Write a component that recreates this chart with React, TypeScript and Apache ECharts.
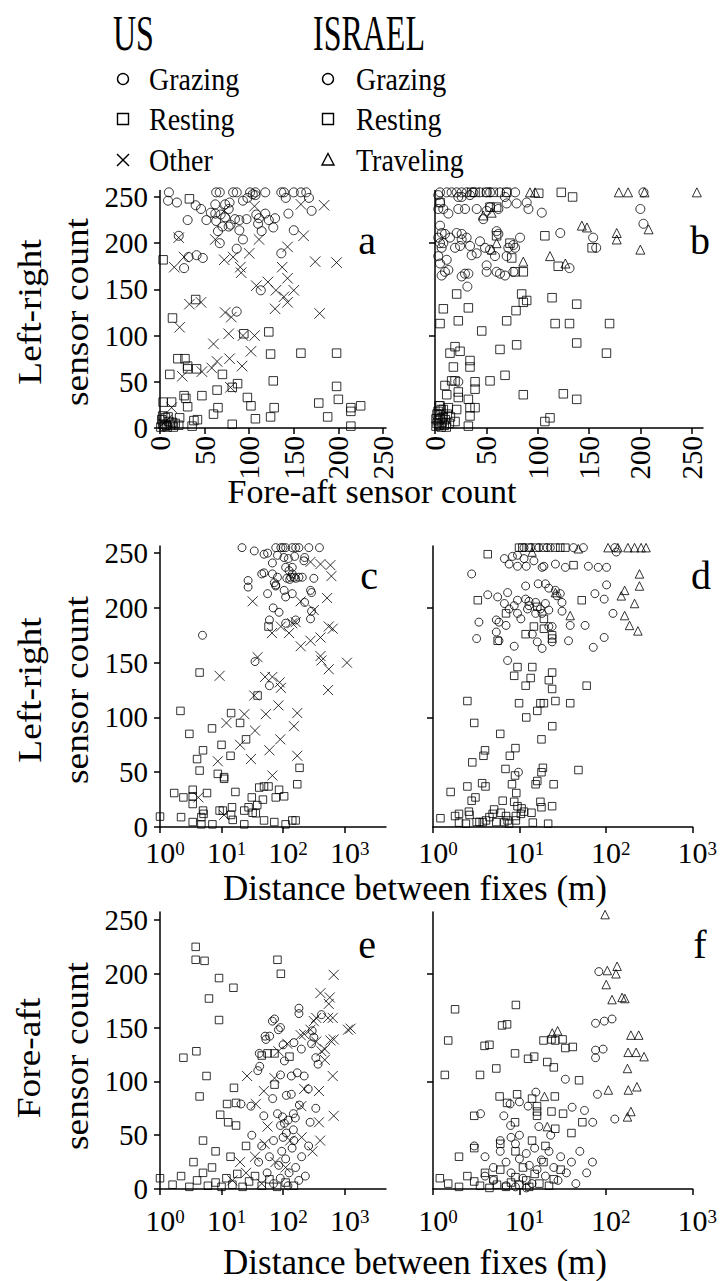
import React, { useEffect, useRef } from 'react';
import * as echarts from 'echarts';

// ---------- tick labels ----------
const countTicks = [0, 50, 100, 150, 200, 250];
const rightYTicks = [100, 200];
const distTicks = [1, 10, 100, 1000];
const usLegend = ['Grazing', 'Resting', 'Other'];
const ilLegend = ['Grazing', 'Resting', 'Traveling'];
const colTitles = ['US', 'ISRAEL'];
const panelLetters = ['a', 'b', 'c', 'd', 'e', 'f'];

// ---------- panel a: US, left-right vs fore-aft ----------
const aGrazing = [
  [10,255],[63,255],[67,255],[82,255],[86,255],[101,255],[107,255],[118,255],[136,255],[139,255],[150,255],[158,255],[164,255],
  [9,246],[19,244],[40,241],[46,237],[52,225],[57,233],[62,232],[62,242],[68,231],[73,242],[77,237],[78,244],[63,224],[65,213],[67,200],
  [73,228],[70,218],[77,218],[79,220],[84,226],[89,214],[89,225],[93,204],[93,246],[97,226],[98,249],[104,253],[107,252],[108,231],
  [110,221],[111,227],[114,213],[118,232],[122,225],[127,217],[129,227],[136,189],[141,249],[144,232],[150,214],[167,249],[170,235],
  [31,225],[21,208],[32,185],[41,187],[48,184],[27,173],[86,194],[113,149],[86,126]
];
const aResting = [
  [3.5,182],[33,248],[14,119],[40,139],[20,75],[28,75],[31,67],[31,64],[41,64],[11,58],[70,58],[64,41],[87,48],[81,44],[47,35],[27,35],
  [29,32],[31,23],[3.5,28],[13,28],[98,33],[102,24],[65,22],[60,15],[42,9],[38,8],[36,2],[81,4],[107,10],[124,12],[128,22],[127,51],
  [122,104],[124,80],[158,81],[94,102],[198,81],[198,45],[200,31],[188,12],[178,27],[214,22],[214,18],[214,2],[225,24],
  [2,9],[3,13],[6,11],[9,12],[10,7],[14,6],[17,5],[21,3],[22,11],[5,2],[7,3],[12,3],[3,4],[1,1],[8,1],[15,1]
];
const aOther = [
  [16,174],[21,206],[22,109],[25,56],[27,185],[33,134],[46,136],[60,91],[64,72],[47,61],[58,65],[72,182],[73,125],[78,75],[80,120],
  [77,102],[82,185],[90,174],[91,168],[92,67],[93,100],[100,189],[102,83],[106,100],[108,154],[111,204],[121,158],[129,129],[130,149],
  [137,174],[143,162],[139,142],[143,136],[150,149],[143,196],[158,242],[161,208],[174,180],[179,124],[184,241],[198,179],[79,44],
  [62,204],[106,240],[72,235],[13,22],[4,5],[8,9]
];

// ---------- panel b: Israel, left-right vs fore-aft ----------
const bGrazing = [
  [4.9,255],[11.4,255],[16.2,255],[21.1,255],[26,255],[30.8,255],[37.3,255],[43.8,255],[50.3,255],[53.6,255],[63.3,255],[69.8,255],[78,255],[203,255],
  [3.2,252],[4.9,244],[8.1,237],[3.2,237],[13,232],[22.7,250],[26,250],[34,252],[22.7,237],[29.2,237],[40.6,237],[47,226],[50.3,235],
  [53.6,239],[61.7,237],[68.2,250],[69.8,243],[79.5,243],[89.3,244],[91,237],[104,233],[122,211],[154,206],[157,195],[200,237],[203,221],[131,173],
  [4.9,219],[6.5,211],[9.7,210],[3.2,206],[14.6,206],[4.9,200],[8.1,200],[6.5,195],[21.1,211],[26,210],[30.8,206],[26,204],[19.5,195],
  [24.4,197],[34.1,197],[35.7,187],[40.6,189],[43.8,202],[48.7,195],[53.6,193],[58.4,186],[60,213],[61.7,210],[69.8,186],[71.4,195],
  [76.3,198],[78,195],[82.8,206],[3.2,186],[4.9,178],[11.4,182],[9.7,169],[6.5,165],[13,171],[26,164],[29.2,167],[32.5,167],[50.3,176],
  [50.3,169],[60,169],[63.3,167],[68.2,165],[76.3,169],[31.5,153],[22.7,50]
];
const bResting = [
  [35.7,255],[39,255],[50.3,255],[56.8,255],[69.8,255],[123,255],[101,254],[134,250],[4.9,244],[53.6,239],[60,239],
  [60,208],[73,200],[74.7,184],[86,169],[107,208],[153,195],[120,175],[78,169],
  [21.1,145],[8.1,129],[32.5,130],[84.4,145],[86,136],[89.3,138],[78.9,127],[114,141],[138,134],[4.9,113],[22.7,116],[45.5,105],
  [69.8,116],[117,113],[131,113],[170,113],[19.5,88],[14.6,81],[24.4,83],[63.3,85],[79.5,90],[138,92],[167,81],[34.1,73],[17.9,66],
  [34.1,66],[16.2,51],[19.5,51],[39,50],[39,42],[53.6,51],[68.2,57],[9.7,46],[11.4,36],[22.7,39],[22.7,33],[86,36],[125,37],[138,31],
  [32.5,31],[34.1,22],[39,22],[4.9,24],[8.1,20],[13,22],[21.1,20],[34.1,13],[19.5,7],[32.5,2],[112,11],[107,7],
  [1,2],[2,5],[3,8],[4,3],[5,10],[6,1],[7,6],[8,12],[2,15],[3,18],[5,14],[9,3],[10,9],[11,1],[12,15],[6,20],[4,24],[1,10],[14,5],[15,12]
];
const bTraveling = [
  [92.5,255],[97.4,255],[179,255],[188,255],[204,255],[255,255],
  [47,230],[55.2,233],[55.2,193],[60,200],[86,180],[112,186],[127,178],[143,219],[148,217],[177,211],[177,204],[208,215],[200,193]
];

// ---------- panel c: US, left-right vs distance ----------
const cGrazing = [
  [21.5,255],[34,252],[49,249],[76,255],[92,255],[100,255],[110,255],[141,255],[160,255],[181,255],[262,255],[390,255],[56,250],[81,248],
  [103,246],[122,245],[154,247],[224,246],[67,241],[110,237],[141,237],[218,243],[45,231],[49,232],[27,225],[27,219],[67,231],[81,228],
  [72,223],[76,221],[125,234],[141,231],[133,228],[150,228],[181,228],[205,228],[316,227],[56,213],[76,220],[104,216],[110,210],[141,213],
  [279,216],[290,214],[224,205],[69,200],[86,196],[60,189],[110,186],[160,189],[279,190],[290,197],[4.9,175],[35,151],[60,129],
  [115,227],[128,226],[160,227]
];
const cResting = [
  [58,183],[4.4,141],[38.5,120],[2.15,106],[14.3,104],
  [3,85],[5,70],[7,90],[10,75],[14,65],[20,95],[4,62],[25,80],
  [4.4,51.5],[8.7,48.5],[11,45.5],[11,44],[16.8,32],[1.7,31],[2.4,27],[3.4,34],[3.4,28],[3.4,21],[5.8,31],[31,27],[41,36],[49,37],[58,37],
  [76,27],[86,34],[104,28],[170,39],[185,54],[47,25],[38,20],[27.5,18],[23.4,15],[14.8,18],[14.3,11],[10.5,15],[5,15],[5.1,12],[4.7,9],
  [1,9.5],[2.2,9],[3.4,4.5],[4.7,2.4],[7.1,2.4],[15.2,6.5],[23.4,2.4],[49,6],[72,4.5],[110,2.4],[141,6],[160,6],[9.3,15],[32,13],[36,12.5]
];
const cOther = [
  [279,242],[405,240],[587,239],[609,229],[32,206],[193,206],[519,209],[316,198],[160,187],[141,186],[66,177],[125,177],[92,183],[552,183],
  [640,181],[279,170],[405,173],[193,165],[405,156],[420,152],[552,144],[1091,150],[38.5,155],[51,137],[67,137],[88,132],[92,127],[538,125],
  [34,120],[84,111],[9.3,138],[170,104],[23.5,103],[52.5,103],
  [12,95],[20,75],[35,88],[60,70],[90,80],[150,92],[30,62],
  [8.7,60],[4.2,27],[67,47],[170,65],[11,11]
];

// ---------- panel d: Israel, left-right vs distance ----------
const dGrazing = [
  [11.3,255],[13.5,255],[16.8,255],[20.9,255],[22.8,255],[42.3,255],[55,255],[127,255],[132,251],
  [6.7,245],[8.3,247],[9.5,248],[7.6,240],[9.5,238],[11.3,245],[12,238],[14.7,243],[18.3,237],[19.2,238],[26.1,240],[34,237],[62.8,238],
  [81.7,237],[102,237],[2.8,231],[11.8,220],[16.5,222],[20,222],[21.9,218],[26.1,216],[29.7,213],[27.2,211],[31.1,205],[4.3,212],[5.6,210],
  [7.3,214],[6.7,204],[7.6,199],[8.7,202],[9.5,207],[9.5,195],[10.4,190],[11.8,208],[12.9,206],[12.9,202],[12.4,199],[15.4,205],[15.4,195],
  [17.5,199],[18.3,195],[20,204],[21.9,198],[31.1,197],[38.7,184],[57.5,184],[74.8,213],[102,221],[95.7,208],[121,195],[3.4,187],[5.4,189],
  [5.8,187],[7,184],[5.4,178],[3.2,172],[5.8,170],[8.7,165],[14.1,176],[16.1,169],[18.3,163],[21.9,183],[23.9,183],[23.9,169],[37,170],
  [71.6,164],[95.7,173],[7.3,152],[9.75,50]
];
const dResting = [
  [9.9,255],[10.8,255],[12.9,255],[15.4,255],[19.2,255],[26.1,255],[29.7,255],[34,255],[4.3,249],[42.3,239],[3.3,207],[52.6,207],[7,195],
  [16.1,201],[19.2,190],[14.7,183],[19.2,181],[11.8,176],[5.6,170],[23.9,175],[23.9,172],[9.5,146],[14.1,146],[8.7,138],[13.5,136],[23.9,141],
  [21.9,134],[23.9,126],[11.8,129],[60,129],[2.5,115],[9.9,113],[17.5,113],[19.2,113],[26.1,115],[38.7,113],[16.1,106],
  [3,95],[6,85],[9,72],[12,100],[18,80],[24,92],[4,70],
  [2.85,59],[3.84,65],[7.75,65],[6.9,53],[18.7,54],[18,50],[8.9,47],[48.2,52],[2.5,37],[3.7,40],[4.05,37],[8.2,39],[9.2,31],[15.4,39],
  [16.1,42],[24.9,39],[1.6,32],[2.8,24],[3.1,27],[6.4,24],[8.7,23],[9.5,19],[10.6,17],[17.5,23],[18,18],[23.9,19],[1.22,8],[1.8,10],
  [2,12],[2.65,11],[2.6,14],[3.45,4.5],[4.5,9],[4.9,12],[5.1,16],[6.1,13],[7,10],[7.3,6],[9.1,6],[9.1,10],[10.4,12],[11.3,14],[13.8,13],
  [14.3,4],[21.5,3],[2,4],[2.4,3],[3.2,4.5],[3.77,4.5],[4.1,6],[5.4,4.5],[6.7,4.5],[7.6,3]
];
const dTraveling = [
  [106,255],[138,255],[180,255],[215,255],[256,255],[292,255],[48,254],[14,251],
  [26.1,214],[38.7,193],[165,216],[151,211],[245,231],[245,220],[215,204],[165,193],[188,184],[235,179]
];

// ---------- panel e: US, fore-aft vs distance ----------
const eGrazing = [
  [181,168],[181,163],[420,162],[67,156],[84,148],[51,142],[52.5,139],[297,147],[316,141],[290,135],[100,134],[150,136],[41,126],
  [72.6,158],[90.7,150],[60.5,142],[198,130],[340,122],[370,116],[41.7,114],[38.8,110],[105,119],[90.7,106],[136,105],[170,108],[220,105],
  [256,93],[67.7,84],[113,87],[136,88],[20.7,79],[30,77],[48.6,68],[147,70],[158,66],[275,62],[184,78],[81,70],[98,67],[121,64],[90.7,59],
  [105,61],[340,75],[31,50],[113,52],[147,55],
  [45,40],[60,30],[70,45],[85,22],[95,35],[110,28],[125,15],[140,38],[160,20],[180,8],[200,30],[230,12],[90,10],[70,5],[120,3],[150,45],
  [55,15],[260,40],[40,25],[100,48]
];
const eResting = [
  [3.8,225],[3.8,213],[5.3,212],[81,213],[92,200],[9.1,196],[15.6,187],[6.25,177],[9.1,157],
  [3.9,128],[2.4,122],[5.7,105],[15.9,94],[4.4,86],[12.3,79],[17.2,80],[9.5,69],[12.8,62],[17.2,59],[45,124],[56,126],[72.6,126],[127,123],[72.6,97],
  [1,10],[1.6,4],[2.2,12],[3,2],[3.5,25],[4,8],[5,15],[6,3],[7,20],[8,6],[10,2],[12,10],[15,4],[18,14],[22,2],[28,7],[35,12],[45,3],[60,9],
  [80,2],[110,6],[150,3],[8,35],[14,30],[25,40],[5,45]
];
const eOther = [
  [665,199],[405,182],[573,178],[552,172],[538,159],[1132,148],[316,156],[279,148],[193,143],[587,138],[420,128],[117,135],[84,128],
  [345,159],[640,159],[1250,149],[220,144],[345,137],[665,139],[476,130],[476,120],[640,105],[26,105],[72.6,103],[48.6,91],[220,93],
  [383,91],[56,58],[383,62],[665,68],[198,77],[36,79],
  [15,8],[25,15],[35,30],[50,42],[75,25],[130,45],[200,48],[300,35],[45,5],[20,25],[400,45],[110,20]
];

// ---------- panel f: Israel, fore-aft vs distance ----------
const fGrazing = [
  [83,202],[76,154],[96,156],[76,129],[118,158],[93,130],[76,122],[34,102],[15.5,90],[80,88],[7.8,79],[10,81],[12.6,77],[3.55,70],[6.6,68],
  [7.9,59],[40.7,76],[56.6,73],[70.5,62],[127,65],[16.8,58],[23,50],
  [3,40],[4,30],[5,20],[6,35],[7,25],[8,15],[9,42],[10,28],[11,10],[12,33],[13,22],[14,5],[15,38],[16,18],[18,27],[20,12],[22,35],[25,20],
  [28,8],[30,30],[35,15],[40,25],[45,5],[50,35],[60,15],[70,25],[5,8],[7,3],[9,2],[12,1],[4,12],[6,45],[8,48],[10,50]
];
const fResting = [
  [1.8,167],[9.1,171],[6.3,152],[1.5,138],[3.95,133],[19,138],[26,138],[34,131],[7.2,153],[4.5,134],[8.9,126],[12.6,121],[14.8,123],[21,118],
  [25,113],[23.5,139],[31.6,139],[41.5,132],[1.37,106],[3.5,106],[5.4,112],[49,101],[5.9,86],[9.4,88],[14,84],[25.7,86],[7.2,80],[16,77],
  [16,72],[23.5,72],[32,70],[3,68],[8.9,62],[53.5,62],[26,56],[40,52],[16,68],
  [1.2,10],[1.5,5],[2,2],[2.5,12],[3,7],[3.5,3],[4,15],[4.5,1],[5,9],[5.5,4],[6,18],[7,2],[8,6],[9,11],[10,4],[11,20],[12,8],[13,2],[15,14],
  [17,5],[19,25],[22,3],[25,9],[2,30],[3,38],[6,42],[9,35],[14,45],[20,40],[30,18]
];
const fTraveling = [
  [98,255],[104,203],[135,207],[131,200],[101,190],[118,176],[154,178],[166,177],[24,145],[195,143],[181,127],[27.7,147],[240,143],[224,127],
  [277,123],[178,112],[107,92],[182,92],[229,95],[195,72],[178,67],[19.5,86],[21,58]
];

const FONT = 'Liberation Serif';
const BLACK = '#000';

const CROSS = 'path://M0,0L10,10M0,10L10,0';
const SYMBOLS: Record<string, string> = {
  Grazing: 'circle',
  Resting: 'rect',
  Other: CROSS,
  Traveling: 'triangle',
};
const SIZES_TOP: Record<string, number> = { Grazing: 9, Resting: 8.5, Other: 10.5, Traveling: 9 };
const SIZES_LOW: Record<string, number> = { Grazing: 8, Resting: 7.5, Other: 10, Traveling: 8.5 };

function scatter(name: string, data: number[][], idx: number) {
  const sizes = idx < 2 ? SIZES_TOP : SIZES_LOW;
  return {
    type: 'scatter',
    name,
    xAxisIndex: idx,
    yAxisIndex: idx,
    data,
    symbol: SYMBOLS[name],
    symbolSize: sizes[name],
    itemStyle: { color: 'rgba(0,0,0,0)', borderColor: BLACK, borderWidth: 1 },
    silent: true,
  };
}

const axisLine = { show: true, onZero: false, lineStyle: { color: BLACK, width: 1.5 } };
const tickLine = { color: BLACK, width: 1.5 };

function countX(gridIndex: number, max: number) {
  return {
    type: 'value', gridIndex, min: 0, max,
    axisLine,
    axisTick: { show: true, length: 6, customValues: countTicks, lineStyle: tickLine },
    axisLabel: { show: true, customValues: countTicks, rotate: 90, margin: 8, fontFamily: FONT, fontSize: 29, color: BLACK },
    splitLine: { show: false },
  };
}

function distX(gridIndex: number, max: number, margin: number) {
  return {
    type: 'log', logBase: 10, gridIndex, min: 1, max,
    axisLine,
    axisTick: { show: true, length: 6, customValues: distTicks, lineStyle: tickLine },
    axisLabel: {
      show: true, customValues: distTicks, margin, fontFamily: FONT, fontSize: 30, lineHeight: 26, color: BLACK,
      padding: [0, 0, 0, 10],
      formatter: (v: number) => '10{s|' + Math.round(Math.log10(v)) + '}',
      rich: { s: { fontFamily: FONT, fontSize: 19, lineHeight: 26, verticalAlign: 'top', color: BLACK } },
    },
    splitLine: { show: false },
  };
}

function countY(gridIndex: number, max: number, labels: boolean) {
  return {
    type: 'value', gridIndex, min: 0, max,
    axisLine,
    axisTick: { show: true, length: 6, customValues: labels ? countTicks : rightYTicks, lineStyle: tickLine },
    axisLabel: { show: labels, customValues: countTicks, margin: 12, fontFamily: FONT, fontSize: 29, color: BLACK },
    splitLine: { show: false },
  };
}

function txt(text: string, x: number, y: number, size: number, opts: any = {}) {
  return {
    type: 'text', x, y, rotation: opts.rotation || 0, scaleX: opts.scaleX || 1, scaleY: opts.scaleY || 1,
    style: {
      text, fill: BLACK, fontFamily: FONT, fontSize: size,
      textAlign: opts.align || 'center', align: opts.align || 'center',
      textVerticalAlign: 'middle', verticalAlign: 'middle',
    },
  };
}

function legendMarker(kind: string, cx: number, cy: number) {
  const style = { fill: 'none', stroke: BLACK, lineWidth: 1.4 };
  if (kind === 'Grazing') return { type: 'circle', shape: { cx, cy, r: 5.5 }, style };
  if (kind === 'Resting') return { type: 'rect', shape: { x: cx - 5.5, y: cy - 5.5, width: 11, height: 11 }, style };
  if (kind === 'Traveling') return { type: 'polygon', shape: { points: [[cx, cy - 6.5], [cx + 6, cy + 5], [cx - 6, cy + 5]] }, style };
  return {
    type: 'group', children: [
      { type: 'line', shape: { x1: cx - 6, y1: cy - 6, x2: cx + 6, y2: cy + 6 }, style },
      { type: 'line', shape: { x1: cx - 6, y1: cy + 6, x2: cx + 6, y2: cy - 6 }, style },
    ],
  };
}

export default function App() {
  const ref = useRef<HTMLDivElement>(null);
  useEffect(() => {
    if (!ref.current) return;
    const chart = echarts.init(ref.current, null, { renderer: 'svg' });
    const legendRows = [79, 119, 160];
    const graphic: any[] = [
      txt(colTitles[0], 113, 33, 32, { align: 'left', scaleY: 1.55 }),
      txt(colTitles[1], 313, 33, 32, { align: 'left', scaleY: 1.55 }),
    ];
    usLegend.forEach((k, i) => {
      graphic.push(legendMarker(k, 123, legendRows[i]));
      graphic.push(txt(k, 149, legendRows[i], 28, { align: 'left', scaleY: 1.15 }));
    });
    ilLegend.forEach((k, i) => {
      graphic.push(legendMarker(k, 328, legendRows[i]));
      graphic.push(txt(k, 356, legendRows[i], 28, { align: 'left', scaleY: 1.15 }));
    });
    const letterPos = [[367, 240], [700, 240], [369, 575], [701, 575], [367, 944], [700, 944]];
    panelLetters.forEach((l, i) => graphic.push(txt(l, letterPos[i][0], letterPos[i][1], 40)));
    graphic.push(txt('Fore-aft sensor count', 372, 491, 34));
    graphic.push(txt('Distance between fixes (m)', 415, 888, 35));
    graphic.push(txt('Distance between fixes (m)', 415, 1262, 35));
    const rot = Math.PI / 2;
    graphic.push(txt('Left-right', 30, 312, 34, { rotation: rot, scaleX: 1.1 }));
    graphic.push(txt('sensor count', 77, 312, 34, { rotation: rot, scaleX: 1.1 }));
    graphic.push(txt('Left-right', 30, 690, 34, { rotation: rot, scaleX: 1.1 }));
    graphic.push(txt('sensor count', 77, 690, 34, { rotation: rot, scaleX: 1.1 }));
    graphic.push(txt('Fore-aft', 29, 1058, 34, { rotation: rot, scaleX: 1.1 }));
    graphic.push(txt('sensor count', 77, 1056, 34, { rotation: rot, scaleX: 1.1 }));

    const option: any = {
      animation: false,
      backgroundColor: '#fff',
      grid: [
        { left: 160, top: 190.5, width: 226, height: 237.5 },
        { left: 435, top: 190.5, width: 268, height: 237.5 },
        { left: 160, top: 546, width: 226, height: 281 },
        { left: 433, top: 546, width: 262, height: 281 },
        { left: 160, top: 912, width: 226, height: 277 },
        { left: 433, top: 912, width: 262, height: 277 },
      ],
      xAxis: [
        countX(0, 253.4), countX(1, 261),
        distX(2, 4700, 12), distX(3, 1010, 12),
        distX(4, 4700, 18), distX(5, 1010, 18),
      ],
      yAxis: [
        countY(0, 257, true), countY(1, 257, false),
        countY(2, 256.5, true), countY(3, 256.5, false),
        countY(4, 257.4, true), countY(5, 257.4, false),
      ],
      series: [
        scatter('Grazing', aGrazing, 0), scatter('Resting', aResting, 0), scatter('Other', aOther, 0),
        scatter('Grazing', bGrazing, 1), scatter('Resting', bResting, 1), scatter('Traveling', bTraveling, 1),
        scatter('Grazing', cGrazing, 2), scatter('Resting', cResting, 2), scatter('Other', cOther, 2),
        scatter('Grazing', dGrazing, 3), scatter('Resting', dResting, 3), scatter('Traveling', dTraveling, 3),
        scatter('Grazing', eGrazing, 4), scatter('Resting', eResting, 4), scatter('Other', eOther, 4),
        scatter('Grazing', fGrazing, 5), scatter('Resting', fResting, 5), scatter('Traveling', fTraveling, 5),
      ],
      graphic,
    };
    chart.setOption(option);
    return () => chart.dispose();
  }, []);
  return (
    <div
      ref={ref}
      style={{ position: 'absolute', left: 0, top: 0, width: 720, height: 1281, background: '#fff' }}
    />
  );
}
